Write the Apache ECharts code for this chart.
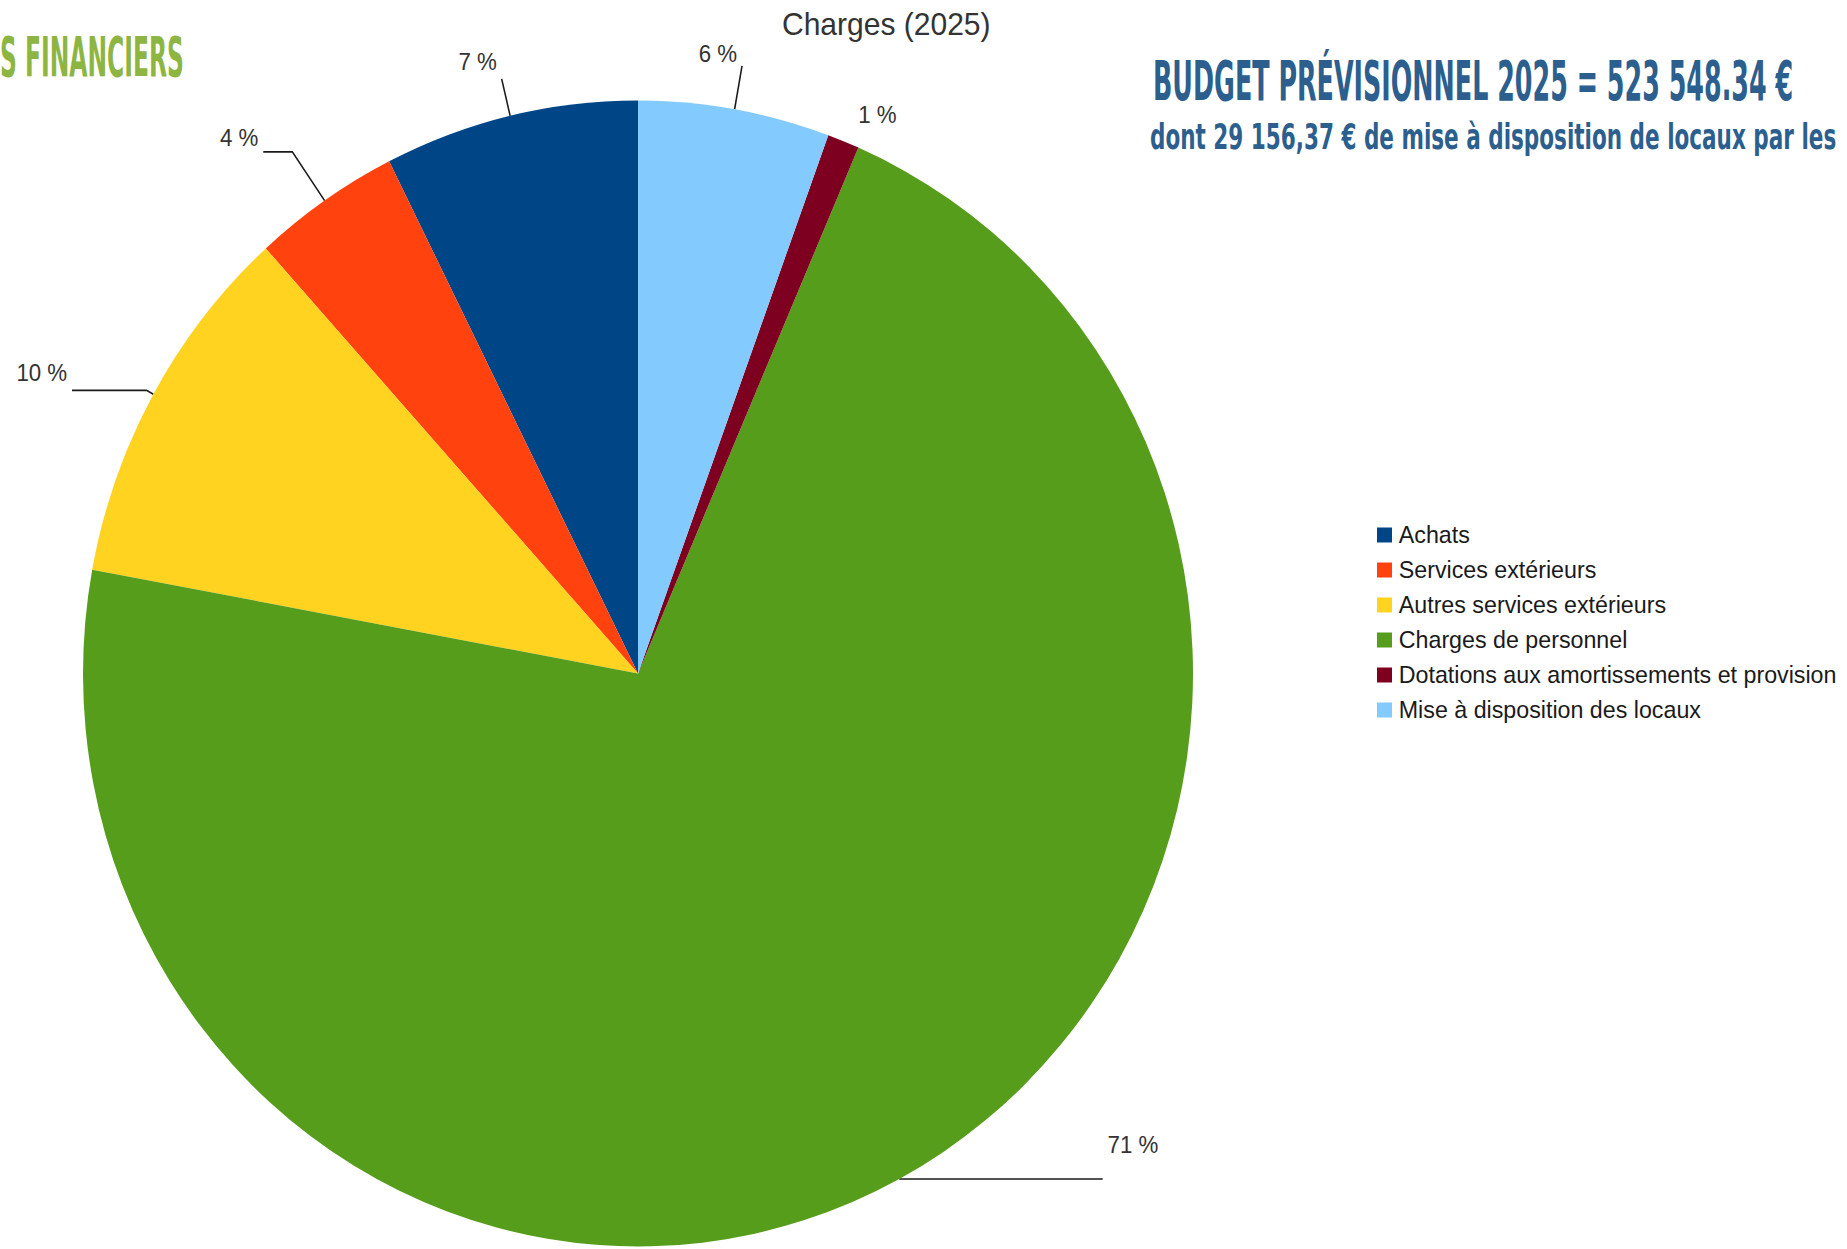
<!DOCTYPE html>
<html lang="fr">
<head>
<meta charset="utf-8">
<title>Charges (2025)</title>
<script src="https://cdn.jsdelivr.net/npm/echarts@6/dist/echarts.min.js"></script>
<style>
  html, body { margin: 0; padding: 0; background: #ffffff; }
  #frame { width: 1847px; height: 1249px; overflow: hidden; position: relative; background: #ffffff; }
  #chart { height: 1249px; transform-origin: 0 0; }
</style>
</head>
<body>
<div id="frame"><div id="chart"></div></div>
<script>
// Budget prévisionnel 2025 — répartition des charges (montants en euros)
const categories = [
  'Achats',
  'Services extérieurs',
  'Autres services extérieurs',
  'Charges de personnel',
  'Dotations aux amortissements et provision',
  'Mise à disposition des locaux'
];
const amounts = [38743, 22513, 54449, 373818, 4869, 29156.37];

const chartTitle = 'Charges (2025)';
const sectionHeading = 'S FINANCIERS';
const budgetHeading = 'BUDGET PRÉVISIONNEL 2025 = 523 548.34 €';
const budgetNote = 'dont 29 156,37 € de mise à disposition de locaux par les';

// LibreOffice default chart palette
const palette = ['#004586', '#ff420e', '#ffd320', '#579d1c', '#7e0021', '#83caff'];

// Leader lines per slice; "lift" raises the label above the end of its line,
// "flip" puts a right-hand label on the left of its line end
const leaderStyle = {
  'Achats': { length: 38, length2: 0, lift: 17 },
  'Services extérieurs': { length: 59, length2: 30, lift: 14 },
  'Autres services extérieurs': { length: 8, length2: 77, lift: 17 },
  'Charges de personnel': { length: 0, length2: 210, lift: 34 },
  'Dotations aux amortissements et provision': { length: 28, length2: 0, lift: 0, show: false },
  'Mise à disposition des locaux': { length: 44, length2: 0, lift: 12, flip: true }
};

// The chart is drawn slightly stretched vertically (oval pie): the whole
// drawing is squeezed horizontally by this factor.
const sx = 555 / 573;
const X = v => v / sx;           // page x -> chart x
const chartWidth = X(1847);

const chartDiv = document.getElementById('chart');
chartDiv.style.width = chartWidth + 'px';
chartDiv.style.transform = 'scaleX(' + sx + ')';

const total = amounts.reduce((a, b) => a + b, 0);
const percentText = v => Math.round(v / total * 100) + ' %';

const pieData = categories.map((name, i) => {
  const ls = leaderStyle[name];
  const item = {
    name: name,
    value: amounts[i],
    itemStyle: { color: palette[i] },
    labelLine: { show: ls.show !== false, length: ls.length, length2: ls.length2 }
  };
  if (ls.lift) {
    // a blank second line pushes the value up by half the line height
    item.label = { lineHeight: ls.lift * 2 };
  }
  return item;
});

// Squeeze a heading horizontally so it spans the wanted page width (condensed display face)
function fitScale(text, font, width) {
  const ctx = document.createElement('canvas').getContext('2d');
  ctx.font = font;
  return X(width) / ctx.measureText(text).width;
}

const headFont = 'bold 55px "Liberation Sans Narrow", "DejaVu Sans Condensed", "DejaVu Sans", sans-serif';
const noteFont = 'bold 36px "Liberation Sans Narrow", "DejaVu Sans Condensed", "DejaVu Sans", sans-serif';

function heading(text, font, left, midY, width, color) {
  return {
    type: 'text',
    x: X(left),
    y: midY,
    scaleX: fitScale(text, font, width),
    silent: true,
    style: {
      text: text,
      font: font,
      fill: color,
      align: 'left',
      verticalAlign: 'middle'
    }
  };
}

const chart = echarts.init(chartDiv, null, { renderer: 'svg' });

chart.setOption({
  backgroundColor: '#ffffff',
  animation: false,
  title: {
    text: chartTitle,
    left: X(782),
    top: 8,
    padding: 0,
    textStyle: {
      fontFamily: 'Liberation Sans, Arial, sans-serif',
      fontSize: 31,
      fontWeight: 'normal',
      color: '#333333'
    }
  },
  legend: {
    orient: 'vertical',
    left: X(1377),
    top: 523,
    padding: 0,
    itemWidth: X(15),
    itemHeight: 15,
    itemGap: 11,
    icon: 'rect',
    selectedMode: false,
    data: categories,
    textStyle: {
      fontFamily: 'Liberation Sans, Arial, sans-serif',
      fontSize: 24,
      color: '#1a1a1a',
      padding: [0, 0, 0, 2]
    }
  },
  graphic: [
    heading(sectionHeading, headFont, 0, 57, 184, '#8db542'),
    heading(budgetHeading, headFont, 1153, 80, 640, '#2c5f8e'),
    heading(budgetNote, noteFont, 1150, 137, 687, '#2c5f8e')
  ],
  series: [{
    type: 'pie',
    center: [X(638), 673.5],
    radius: [0, 573],
    startAngle: 90,
    clockwise: false,
    avoidLabelOverlap: false,
    emphasis: { disabled: true },
    itemStyle: { borderWidth: 0 },
    label: {
      show: true,
      position: 'outside',
      fontFamily: 'Liberation Sans, Arial, sans-serif',
      fontSize: 23,
      color: '#333333',
      distanceToLabelLine: 5,
      formatter: p => percentText(p.value) + (leaderStyle[p.name].lift ? '\n ' : '')
    },
    labelLine: {
      show: true,
      lineStyle: { color: '#1a1a1a', width: 1.6 }
    },
    labelLayout: params => {
      const ls = leaderStyle[categories[params.dataIndex]];
      const pts = params.labelLinePoints;
      if (!ls || !ls.flip || !pts) return {};
      const end = pts[pts.length - 1];
      return { x: end[0] - 5, y: end[1], align: 'right', labelLinePoints: pts };
    },
    data: pieData
  }]
});
</script>
</body>
</html>
